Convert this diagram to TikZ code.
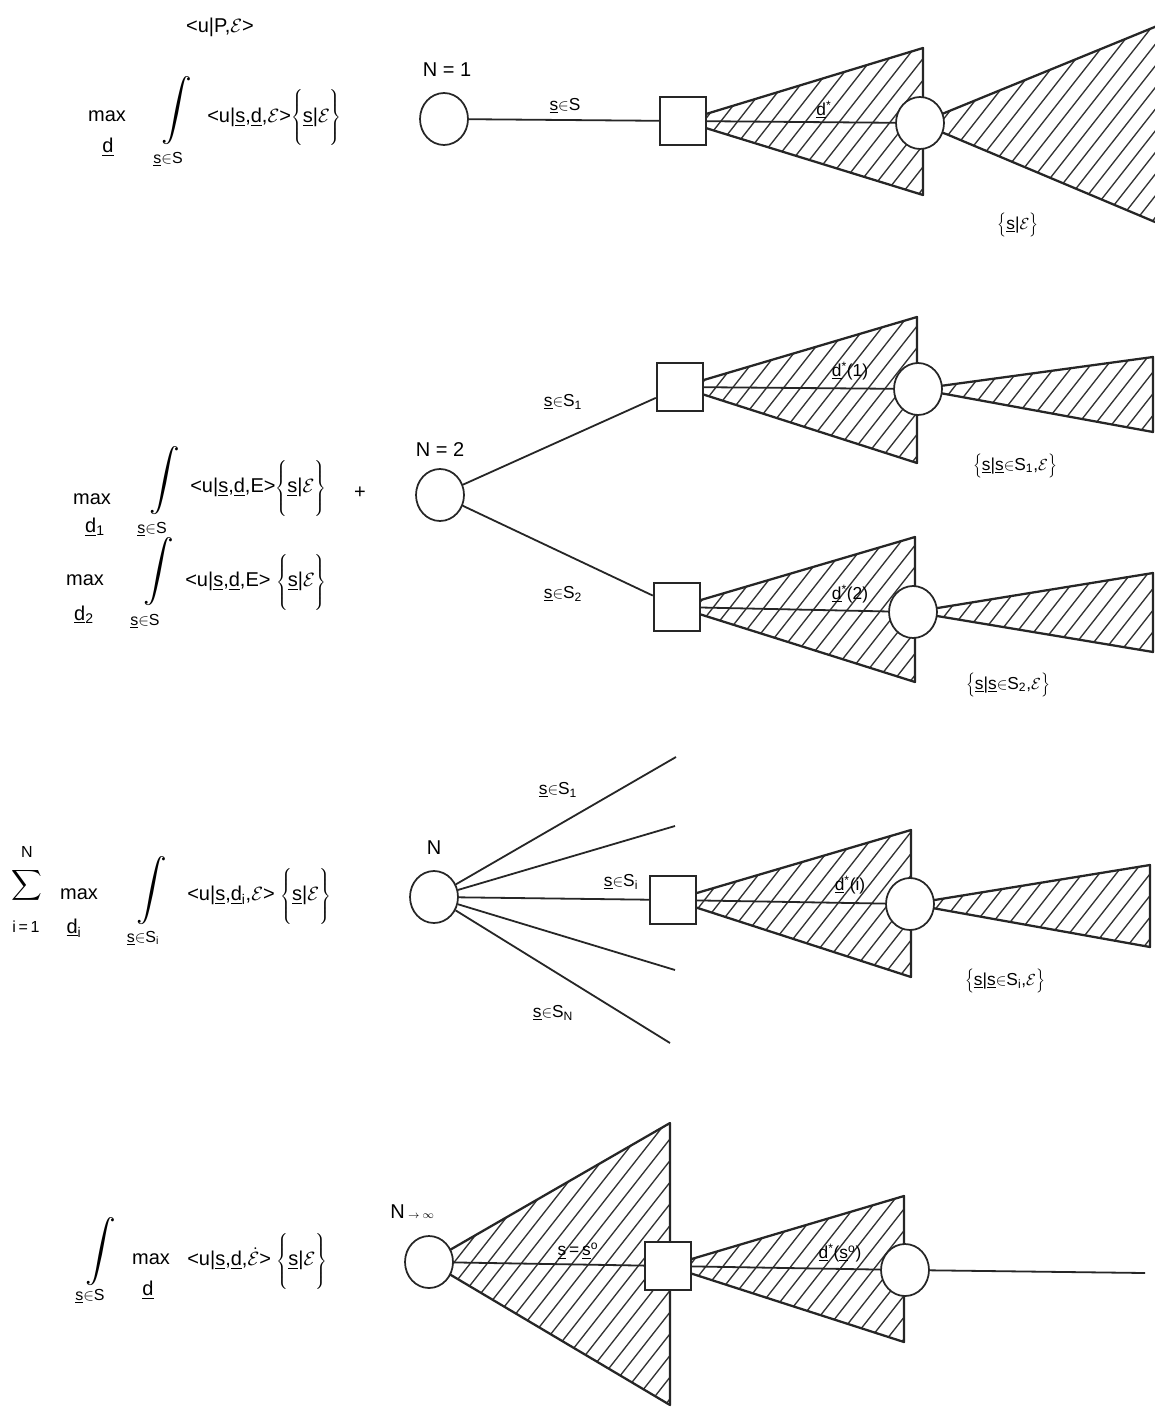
\documentclass[tikz,border=0pt]{standalone}
\usepackage{fontspec}
\setmainfont{Liberation Sans}
\usetikzlibrary{shapes.geometric}
\newcommand{\Brace}[2]{\(\left\{\vcenter{\hbox{\rule{0pt}{#1}}}\mbox{#2}\right\}\)}
\newcommand{\us}{\underline{s}}
\newcommand{\ud}{\underline{d}}
\newcommand{\Ecal}{\(\mathcal{E}\)}
\newcommand{\Int}{\scalebox{2.3}{\(\displaystyle\int\)}}
\newcommand{\hatchtri}[3]{%
  \begin{scope}
    \clip #1 -- #2 -- #3 -- cycle;
    \foreach \c in {0,17,...,2300} \draw[hatchline] (\c,0) -- ++(-1106,1409);
  \end{scope}
  \draw[triline] #1 -- #2 -- #3 -- cycle;
}
\tikzset{
 conn/.style={line width=1.35pt, draw=black!85},
 triline/.style={line width=1.7pt, draw=black!85, line join=round},
 hatchline/.style={line width=1.0pt, draw=black!80},
 circ/.style={ellipse, draw=black!85, line width=1.3pt, fill=white, minimum width=36pt, minimum height=39pt, inner sep=0pt},
 sqr/.style={rectangle, draw=black!85, line width=1.3pt, fill=white, minimum width=35pt, minimum height=36pt, inner sep=0pt},
 fm/.style={font=\fontsize{15}{18}\selectfont, inner sep=0pt},
 sub/.style={font=\fontsize{12}{14}\selectfont, inner sep=0pt},
 lab/.style={font=\fontsize{13}{15}\selectfont, inner sep=0pt},
}
\begin{document}
\begin{tikzpicture}[x=0.75pt,y=-0.75pt]
\useasboundingbox (0,0) rectangle (1155,1409);
\fill[white] (0,0) rectangle (1155,1409);

% ---------------- Section 1: N = 1
\coordinate (P1) at (444,119);
\coordinate (Q1) at (683,121);
\coordinate (C1) at (920,123);
\hatchtri{(Q1)}{(923,48)}{(923,195)}
\hatchtri{(C1)}{(1250,-12)}{(1250,262)}
\node[circ] (r1) at (P1) {};
\node[sqr] (q1) at (Q1) {};
\node[circ] (c1) at (C1) {};
\draw[conn] (r1) -- (q1);
\draw[conn] (q1) -- (c1);
\node[fm] (n1) at (447,70) {N~=~1};
\node[lab] (l1a) at (565,106) {\us\(\in\)S};
\node[lab] (l1b) at (824,110) {\ud\textsuperscript{*}};
\node[lab] (l1c) at (1018,225) {\Brace{16pt}{\us|\Ecal}};

\node[fm] (f0) at (220,27) {<u|P,\Ecal>};
\node[fm] (m1) at (107,116) {max};
\node[fm] (d1) at (108,147) {\ud};
\node[inner sep=0pt] (i1) at (177,111) {\Int};
\node[sub] (s1) at (168,159) {\us\(\in\)S};
\node[fm,anchor=west] (e1) at (207,118) {<u|\us,\ud,\Ecal>\Brace{42pt}{\us|\Ecal}};

% ---------------- Section 2: N = 2
\coordinate (P2) at (440,495);
\coordinate (Q2a) at (680,387);
\coordinate (C2a) at (918,389);
\coordinate (Q2b) at (677,607);
\coordinate (C2b) at (913,612);
\hatchtri{(Q2a)}{(917,317)}{(917,463)}
\hatchtri{(C2a)}{(1153,357)}{(1153,432)}
\hatchtri{(Q2b)}{(915,537)}{(915,682)}
\hatchtri{(C2b)}{(1153,573)}{(1153,652)}
\node[circ] (r2) at (P2) {};
\node[sqr] (q2a) at (Q2a) {};
\node[circ] (c2a) at (C2a) {};
\node[sqr] (q2b) at (Q2b) {};
\node[circ] (c2b) at (C2b) {};
\draw[conn] (r2) -- (q2a);
\draw[conn] (r2) -- (q2b);
\draw[conn] (q2a) -- (c2a);
\draw[conn] (q2b) -- (c2b);
\node[fm] (n2) at (440,450) {N~=~2};
\node[lab] (l2a) at (563,402) {\us\(\in\)S\textsubscript{1}};
\node[lab] (l2b) at (563,594) {\us\(\in\)S\textsubscript{2}};
\node[lab] (l2c) at (850,371) {\ud\textsuperscript{*}(1)};
\node[lab] (l2d) at (850,594) {\ud\textsuperscript{*}(2)};
\node[lab] (l2e) at (1015,466) {\Brace{16pt}{\us|\us\(\in\)S\textsubscript{1},\Ecal}};
\node[lab] (l2f) at (1008,685) {\Brace{16pt}{\us|\us\(\in\)S\textsubscript{2},\Ecal}};

\node[fm] (m2) at (92,499) {max};
\node[fm] (d2) at (95,527) {\ud\textsubscript{1}};
\node[inner sep=0pt] (i2) at (165,481) {\Int};
\node[sub] (s2) at (152,529) {\us\(\in\)S};
\node[fm,anchor=west] (e2) at (190,488) {<u|\us,\ud,E>\Brace{42pt}{\us|\Ecal}};
\node[fm] (plus) at (360,493) {+};
\node[fm] (m3) at (85,580) {max};
\node[fm] (d3) at (84,615) {\ud\textsubscript{2}};
\node[inner sep=0pt] (i3) at (159,572) {\Int};
\node[sub] (s3) at (145,621) {\us\(\in\)S};
\node[fm,anchor=west] (e3) at (185,582) {<u|\us,\ud,E> \Brace{42pt}{\us|\Ecal}};

% ---------------- Section 3: N
\coordinate (P3) at (434,897);
\coordinate (Q3) at (673,900);
\coordinate (C3) at (910,904);
\coordinate (f1) at (676,757);
\coordinate (f2) at (675,826);
\coordinate (f4) at (675,970);
\coordinate (f5) at (670,1043);
\hatchtri{(Q3)}{(911,830)}{(911,977)}
\hatchtri{(C3)}{(1150,865)}{(1150,947)}
\node[circ] (r3) at (P3) {};
\node[sqr] (q3) at (Q3) {};
\node[circ] (c3) at (C3) {};
\draw[conn] (r3) -- (f1);
\draw[conn] (r3) -- (f2);
\draw[conn] (r3) -- (q3);
\draw[conn] (r3) -- (f4);
\draw[conn] (r3) -- (f5);
\draw[conn] (q3) -- (c3);
\node[fm] (n3) at (434,848) {N};
\node[lab] (l3a) at (558,790) {\us\(\in\)S\textsubscript{1}};
\node[lab] (l3b) at (621,882) {\us\(\in\)S\textsubscript{i}};
\node[lab] (l3c) at (553,1013) {\us\(\in\)S\textsubscript{N}};
\node[lab] (l3d) at (850,885) {\ud\textsuperscript{*}(i)};
\node[lab] (l3e) at (1005,981) {\Brace{16pt}{\us|\us\(\in\)S\textsubscript{i},\Ecal}};

\node[sub] (sN) at (27,852) {N};
\node[inner sep=0pt] (sig) at (27,885) {\scalebox{1.6}{\(\displaystyle\sum\)}};
\node[sub] (s1b) at (26,927) {i\,=\,1};
\node[fm] (m4) at (79,894) {max};
\node[fm] (d4) at (74,928) {\ud\textsubscript{i}};
\node[inner sep=0pt] (i4) at (152,891) {\Int};
\node[sub] (s4) at (143,938) {\us\(\in\)S\textsubscript{i}};
\node[fm,anchor=west] (e4) at (187,896) {<u|\us,\ud\textsubscript{i},\Ecal> \Brace{42pt}{\us|\Ecal}};

% ---------------- Section 4: N -> infinity
\coordinate (P4) at (429,1262);
\coordinate (Q4) at (668,1266);
\coordinate (C4) at (905,1270);
\coordinate (end4) at (1145,1273);
\hatchtri{(P4)}{(670,1123)}{(670,1405)}
\hatchtri{(Q4)}{(904,1196)}{(904,1342)}
\node[circ] (r4) at (P4) {};
\node[sqr] (q4) at (Q4) {};
\node[circ] (c4) at (C4) {};
\draw[conn] (r4) -- (q4);
\draw[conn] (q4) -- (c4);
\draw[conn] (c4) -- (end4);
\node[fm,anchor=west] (n4) at (390,1212) {N\,{\fontsize{8}{9}\selectfont\(\rightarrow\infty\)}};
\node[lab] (l4a) at (578,1251) {\us\,=\,\us\textsuperscript{o}};
\node[lab] (l4b) at (840,1253) {\ud\textsuperscript{*}(\us\textsuperscript{o})};

\node[inner sep=0pt] (i5) at (101,1252) {\Int};
\node[sub] (s5) at (90,1296) {\us\(\in\)S};
\node[fm] (m5) at (151,1259) {max};
\node[fm] (d5) at (148,1290) {\ud};
\node[fm,anchor=west] (e5) at (187,1261) {<u|\us,\ud,\(\dot{\mathcal{E}}\)> \Brace{42pt}{\us|\Ecal}};
\end{tikzpicture}
\end{document}
